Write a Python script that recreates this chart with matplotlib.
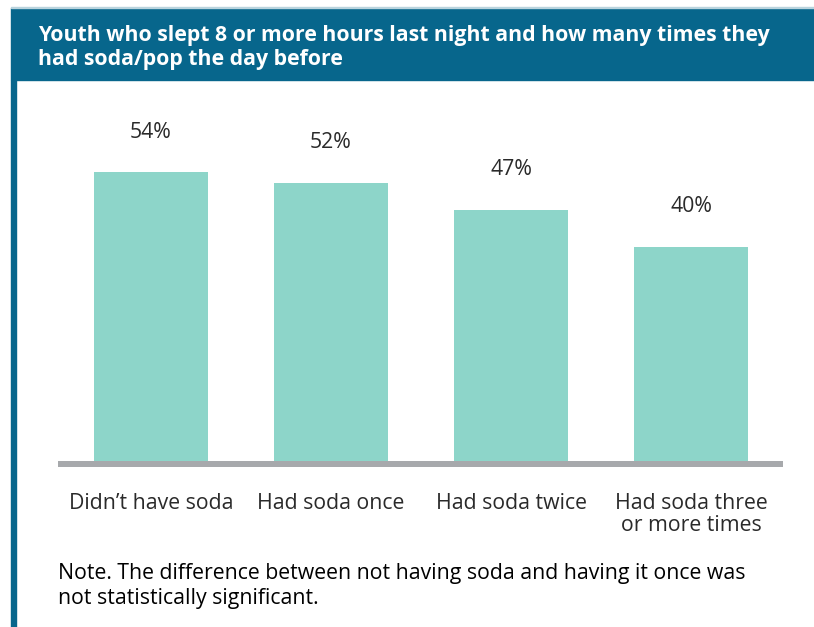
'''
Youth sleep vs soda/pop bar chart
'''
import matplotlib.pyplot as plt
from matplotlib.patches import Rectangle

plt.rcParams['font.family'] = ['Open Sans', 'DejaVu Sans']

# data
categories = ["Didn\u2019t have soda", "Had soda once", "Had soda twice",
              "Had soda three\nor more times"]
values = [54, 52, 47, 40]
title = "Youth who slept 8 or more hours last night and how many times they\nhad soda/pop the day before"
note = "Note. The difference between not having soda and having it once was\nnot statistically significant."

banner = '#07668C'
bar_color = '#8DD5C9'
grey = '#A7A9AC'
text_color = '#2A2A2A'

W, H = 814, 627
fig = plt.figure(figsize=(W / 100, H / 100), dpi=100)

# header banner, top line and left border
fig.patches.append(Rectangle((11 / W, 1 - 80 / H), 1 - 11 / W, 72 / H,
                             transform=fig.transFigure, color=banner, zorder=0))
fig.patches.append(Rectangle((11 / W, 1 - 8 / H), 1 - 11 / W, 1.5 / H,
                             transform=fig.transFigure, color='#B9D3DD', zorder=0))
fig.patches.append(Rectangle((11 / W, 0), 5 / W, 1 - 80 / H,
                             transform=fig.transFigure, color=banner, zorder=0))
fig.text(38 / W, 1 - 47.5 / H, title, color='white', fontsize=15.3, fontweight='bold',
         va='center', ha='left', linespacing=1.2)

ax = fig.add_axes([58 / W, 1 - 461 / H, 725 / W, 381 / H])
x = range(len(values))
bars = ax.bar(x, values, width=0.633, color=bar_color)
ax.set_xlim(-0.515, 3.51)
ax.set_ylim(0, 381 / 5.35)

for b, v in zip(bars, values):
    ax.annotate(f"{v}%", (b.get_x() + b.get_width() / 2, v), xytext=(0, 40 * 0.72),
                textcoords='offset points', ha='center', va='center',
                fontsize=15.3, color=text_color)

# base line
ax.add_patch(Rectangle((0, -6 / 381), 1, 6 / 381, transform=ax.transAxes,
                       color=grey, clip_on=False, lw=0))

ax.set_xticks(list(x))
ax.set_xticklabels(categories, fontsize=15.3, color=text_color, linespacing=1.08)
ax.tick_params(axis='x', length=0, pad=23)
ax.set_yticks([])
for s in ax.spines.values():
    s.set_visible(False)

fig.text(58 / W, 1 - 586 / H, note, fontsize=15.3, color='black', va='center',
         ha='left', linespacing=1.2)

plt.savefig('out.png', dpi=100)
